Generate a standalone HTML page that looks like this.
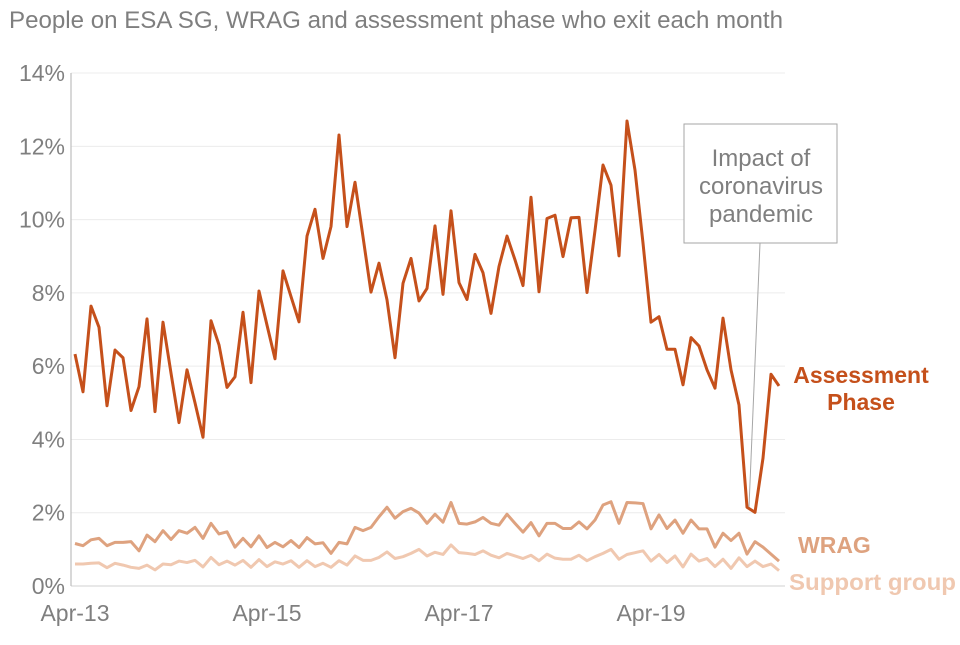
<!DOCTYPE html>
<html><head><meta charset="utf-8"><style>
body{margin:0;background:#fff;width:960px;height:640px;overflow:hidden;font-family:"Liberation Sans",Arial,sans-serif}
svg text{font-family:"Liberation Sans",Arial,sans-serif}
</style></head><body>
<svg id="chart" width="960" height="640" viewBox="0 0 960 640" xmlns="http://www.w3.org/2000/svg">
<text x="9" y="28" font-size="24" fill="#7f7f7f" textLength="774" lengthAdjust="spacingAndGlyphs">People on ESA SG, WRAG and assessment phase who exit each month</text>
<g id="grid"></g>
<g id="yticks"></g>
<g id="xticks"></g>
<line x1="71" y1="73" x2="71" y2="586" stroke="#bfbfbf" stroke-width="1.2"/>
<g id="series"></g>
<g>
<line x1="760" y1="243" x2="749" y2="507" stroke="#a6a6a6" stroke-width="1"/>
<rect x="684" y="124" width="153" height="119" fill="#fff" stroke="#a6a6a6" stroke-width="1"/>
<text font-size="24" fill="#7f7f7f" text-anchor="middle"><tspan x="761" y="166">Impact of</tspan><tspan x="761" y="194">coronavirus</tspan><tspan x="761" y="222">pandemic</tspan></text>
</g>
<text font-size="23" font-weight="bold" fill="#c5501b" text-anchor="middle"><tspan x="861" y="383">Assessment</tspan><tspan x="861" y="410">Phase</tspan></text>
<text x="798" y="553" font-size="23" font-weight="bold" fill="#dea27f">WRAG</text>
<text x="789" y="590" font-size="23" font-weight="bold" fill="#f0c8b0" textLength="167" lengthAdjust="spacingAndGlyphs">Support group</text>
</svg>
<script>
const yTicks=[0,2,4,6,8,10,12,14];
const xLabels=["Apr-13","Apr-15","Apr-17","Apr-19"];
const xLabelIdx=[0,24,48,72];
const assessment=[6.33,5.30,7.64,7.06,4.92,6.44,6.23,4.79,5.44,7.29,4.76,7.20,5.81,4.46,5.90,5.0,4.06,7.24,6.58,5.42,5.71,7.47,5.55,8.05,7.12,6.20,8.6,7.9,7.21,9.55,10.28,8.94,9.81,12.31,9.81,11.02,9.53,8.02,8.81,7.81,6.23,8.26,8.94,7.78,8.12,9.83,7.96,10.24,8.28,7.82,9.05,8.55,7.44,8.72,9.55,8.9,8.2,10.61,8.03,10.03,10.12,8.99,10.05,10.06,8.01,9.7,11.49,10.94,9.01,12.69,11.35,9.36,7.20,7.35,6.46,6.46,5.49,6.78,6.55,5.90,5.40,7.31,5.90,4.94,2.15,2.01,3.49,5.78,5.46];
const wrag=[1.16,1.10,1.26,1.30,1.10,1.19,1.19,1.21,0.96,1.39,1.21,1.51,1.27,1.51,1.44,1.60,1.30,1.71,1.42,1.48,1.06,1.30,1.07,1.37,1.05,1.19,1.07,1.24,1.05,1.32,1.15,1.18,0.89,1.19,1.15,1.60,1.51,1.60,1.89,2.15,1.85,2.03,2.12,1.99,1.71,1.96,1.74,2.28,1.71,1.69,1.75,1.87,1.71,1.66,1.96,1.71,1.47,1.73,1.37,1.71,1.71,1.57,1.57,1.75,1.56,1.80,2.21,2.30,1.71,2.28,2.27,2.25,1.56,1.94,1.57,1.80,1.44,1.80,1.56,1.56,1.06,1.44,1.24,1.44,0.87,1.21,1.06,0.87,0.68];
const support=[0.60,0.60,0.62,0.63,0.50,0.62,0.57,0.51,0.48,0.57,0.44,0.60,0.58,0.68,0.64,0.70,0.52,0.78,0.58,0.68,0.57,0.70,0.51,0.72,0.53,0.66,0.60,0.69,0.51,0.69,0.53,0.62,0.51,0.69,0.57,0.82,0.70,0.70,0.78,0.93,0.75,0.80,0.89,1.00,0.82,0.92,0.86,1.12,0.91,0.89,0.86,0.96,0.84,0.77,0.89,0.82,0.75,0.84,0.69,0.87,0.76,0.73,0.73,0.84,0.69,0.80,0.89,1.00,0.73,0.86,0.91,0.96,0.68,0.86,0.64,0.82,0.52,0.87,0.68,0.75,0.53,0.73,0.48,0.77,0.53,0.68,0.53,0.60,0.42];
const NS="http://www.w3.org/2000/svg";
function xs(i){return 75+i*8;}
function ys(v){return 586-v*36.64;}
function mk(tag,attrs,parent){const e=document.createElementNS(NS,tag);for(const k in attrs)e.setAttribute(k,attrs[k]);parent.appendChild(e);return e;}
const grid=document.getElementById('grid'),yt=document.getElementById('yticks'),xt=document.getElementById('xticks'),ser=document.getElementById('series');
yTicks.forEach(t=>{
  const g=mk('line',{x1:71,x2:785,y1:ys(t),y2:ys(t),stroke:t===0?'#d0d0d0':'#ececec','stroke-width':1},grid);
  
  
  const l=mk('text',{x:65,y:ys(t)+8,'font-size':23,fill:'#7f7f7f','text-anchor':'end'},yt);
  l.textContent=t+'%';
  
  
});
xLabels.forEach((s,k)=>{
  const l=mk('text',{x:xs(xLabelIdx[k]),y:621,'font-size':23,fill:'#7f7f7f','text-anchor':'middle'},xt);
  l.textContent=s;
  
  
});
function line(data,color,w,name){
  const p=mk('polyline',{points:data.map((v,i)=>xs(i)+','+ys(v)).join(' '),fill:'none',stroke:color,'stroke-width':w,'stroke-linejoin':'round'},ser);
  
  
}
line(support,'#f0c8b0',3,'support-group-line');
line(wrag,'#dea27f',3,'wrag-line');
line(assessment,'#c5501b',3,'assessment-phase-line');
</script>
</body></html>
